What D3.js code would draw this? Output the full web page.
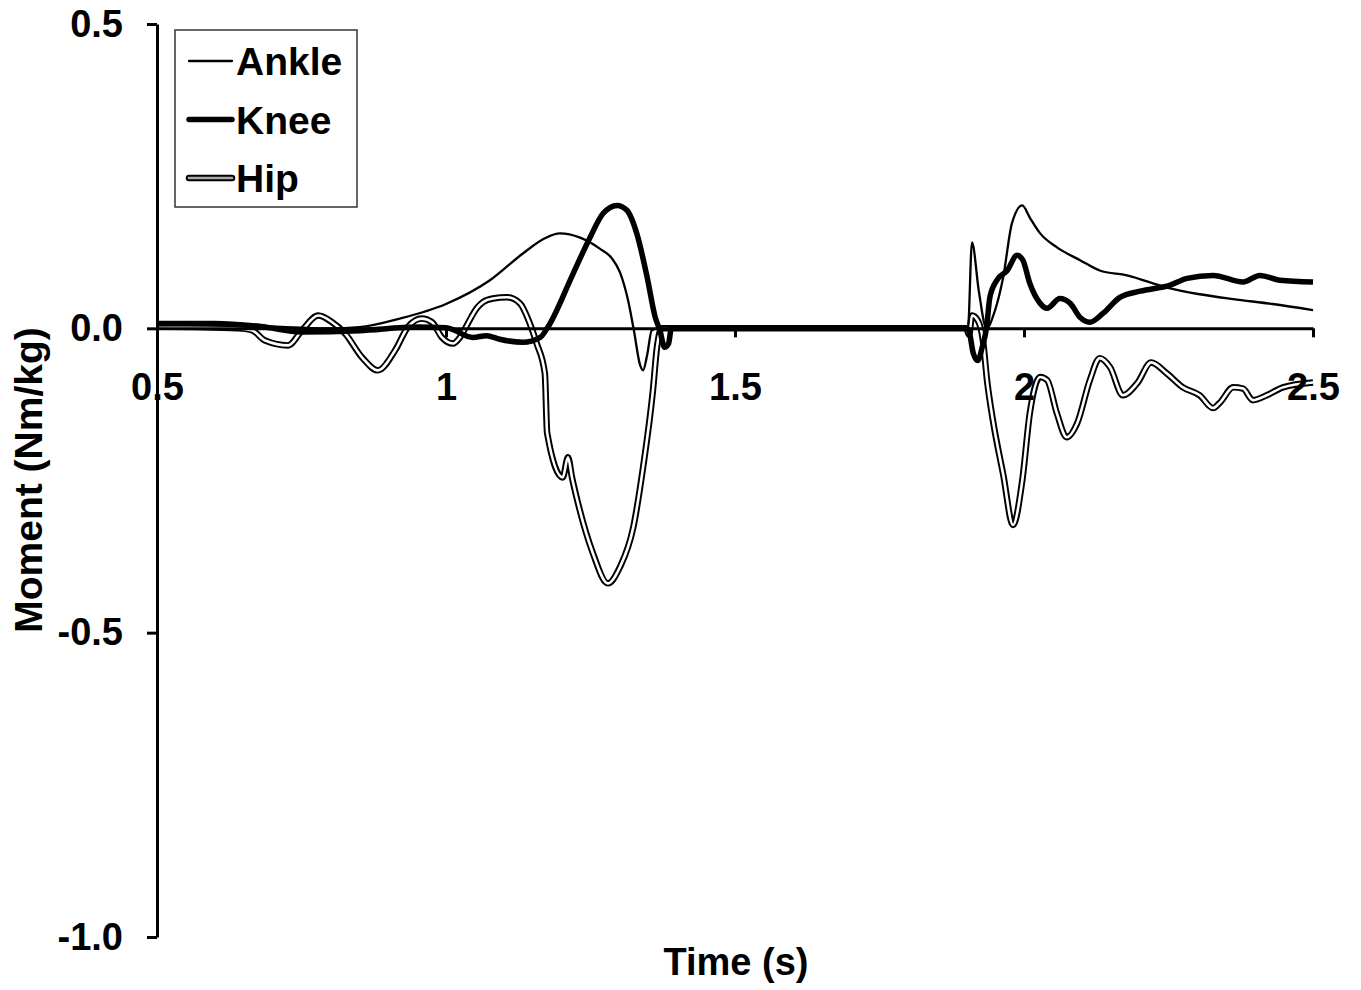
<!DOCTYPE html>
<html>
<head>
<meta charset="utf-8">
<script src="https://cdn.jsdelivr.net/npm/d3@7"></script>
<style>
  body { margin: 0; background: white; }
  text { font-family: "Liberation Sans", Arial, sans-serif; font-weight: bold; fill: black; }
</style>
</head>
<body>
<div id="chart_area"></div>
<script>

// Joint moments: [time (s), moment (Nm/kg)]
var ankle = [[0.5, 0.005], [0.66, 0.004], [0.8, 0.0], [0.85, 0.002], [0.92, 0.016], [1.0, 0.04],
  [1.076, 0.079], [1.133, 0.123], [1.171, 0.148], [1.197, 0.156], [1.232, 0.149], [1.266, 0.131],
  [1.287, 0.115], [1.301, 0.092], [1.315, 0.046], [1.325, -0.003], [1.336, -0.061], [1.341, -0.069],
  [1.348, -0.044], [1.356, -0.003], [1.367, 0.0], [1.6, 0.0], [1.903, 0.0], [1.910, 0.141],
  [1.922, 0.06], [1.935, 0.0], [1.95, 0.03], [1.964, 0.084], [1.979, 0.172], [1.997, 0.202],
  [2.01, 0.182], [2.028, 0.156], [2.057, 0.133], [2.097, 0.112], [2.131, 0.095], [2.178, 0.087],
  [2.247, 0.067], [2.304, 0.056], [2.362, 0.048], [2.43, 0.04], [2.5, 0.03]];

var knee = [[0.5, 0.008], [0.6, 0.008], [0.68, 0.003], [0.75, -0.006], [0.85, -0.004], [0.95, 0.002],
  [1.0, 0.001], [1.047, -0.015], [1.07, -0.012], [1.093, -0.018], [1.133, -0.023], [1.163, -0.015],
  [1.175, 0.0], [1.22, 0.09], [1.249, 0.149], [1.272, 0.189], [1.296, 0.202], [1.313, 0.194],
  [1.33, 0.156], [1.348, 0.084], [1.362, 0.018], [1.37, -0.003], [1.378, -0.031], [1.385, -0.025],
  [1.39, 0.0], [1.6, 0.0], [1.9, 0.0], [1.905, -0.005], [1.912, -0.04], [1.92, -0.053], [1.928, -0.03],
  [1.935, 0.0], [1.941, 0.051], [1.953, 0.079], [1.971, 0.095], [1.988, 0.12], [1.998, 0.112],
  [2.01, 0.074], [2.028, 0.041], [2.04, 0.033], [2.062, 0.049], [2.08, 0.041], [2.097, 0.018],
  [2.114, 0.01], [2.137, 0.025], [2.166, 0.051], [2.201, 0.061], [2.253, 0.071], [2.282, 0.082],
  [2.327, 0.087], [2.379, 0.076], [2.408, 0.087], [2.443, 0.079], [2.5, 0.076]];

var hip = [[0.5, 0.003], [0.64, 0.0], [0.664, -0.003], [0.687, -0.02], [0.727, -0.028], [0.751, -0.003],
  [0.779, 0.021], [0.803, 0.01], [0.825, -0.008], [0.855, -0.048], [0.882, -0.069], [0.912, -0.036],
  [0.934, 0.002], [0.958, 0.016], [0.976, 0.01], [0.993, -0.015], [1.012, -0.025], [1.024, -0.015],
  [1.036, 0.005], [1.054, 0.034], [1.064, 0.043], [1.081, 0.049], [1.106, 0.051], [1.128, 0.041],
  [1.145, 0.008], [1.157, -0.025], [1.171, -0.074], [1.175, -0.172], [1.202, -0.245], [1.211, -0.212],
  [1.218, -0.245], [1.227, -0.282], [1.254, -0.369], [1.28, -0.419], [1.301, -0.392], [1.324, -0.327],
  [1.341, -0.228], [1.358, -0.102], [1.365, -0.031], [1.373, 0.0], [1.6, 0.0], [1.9, 0.0],
  [1.905, -0.011], [1.91, 0.021], [1.92, 0.013], [1.929, -0.02], [1.936, -0.085], [1.946, -0.15],
  [1.964, -0.24], [1.981, -0.323], [1.997, -0.25], [2.01, -0.14], [2.028, -0.08], [2.04, -0.085],
  [2.057, -0.14], [2.074, -0.179], [2.092, -0.156], [2.114, -0.085], [2.131, -0.049], [2.149, -0.064],
  [2.171, -0.11], [2.196, -0.09], [2.22, -0.056], [2.247, -0.074], [2.275, -0.097], [2.304, -0.11],
  [2.327, -0.131], [2.339, -0.122], [2.362, -0.097], [2.379, -0.099], [2.396, -0.118], [2.42, -0.11],
  [2.448, -0.097], [2.5, -0.089]];

// Axis ticks and legend names
var xTicks = [0.5, 1, 1.5, 2, 2.5];
var yTicks = [0.5, 0.0, -0.5, -1.0];
var seriesNames = ["Ankle", "Knee", "Hip"];

window.onload = function() {

  var svgW = 1361
  var svgH = 990
  var margin = {left: 157, right: 48, top: 24, bottom: 53}

  var svg = d3.select("#chart_area")
              .append("svg")
                .attr("width", svgW)
                .attr("height", svgH);

  // Scales
  var xScale = d3.scaleLinear()
                  .domain([0.5, 2.5])
                  .range([margin.left, svgW - margin.right]);

  var yScale = d3.scaleLinear()
                  .domain([-1.0, 0.5])
                  .range([svgH - margin.bottom, margin.top]);

  // monotone curve keeps the flat stretches flat
  var line = d3.line()
                .x(function(d) { return xScale(d[0]); })
                .y(function(d) { return yScale(d[1]); })
                .curve(d3.curveMonotoneX);

  // Hip: black outline with white core
  svg.append("path")
      .attr("d", line(hip))
      .attr("fill", "none")
      .attr("stroke", "black")
      .attr("stroke-width", 6.5)
      .attr("stroke-linejoin", "round");
  svg.append("path")
      .attr("d", line(hip))
      .attr("fill", "none")
      .attr("stroke", "white")
      .attr("stroke-width", 2.6)
      .attr("stroke-linejoin", "round");

  // Ankle: thin line
  svg.append("path")
      .attr("d", line(ankle))
      .attr("fill", "none")
      .attr("stroke", "black")
      .attr("stroke-width", 2.3);

  // Knee: thick line
  svg.append("path")
      .attr("d", line(knee))
      .attr("fill", "none")
      .attr("stroke", "black")
      .attr("stroke-width", 5.5)
      .attr("stroke-linejoin", "round");

  // x axis through zero
  var xAxis = d3.axisBottom(xScale)
                .tickValues(xTicks)
                .tickSize(9)
                .tickSizeOuter(0)
                .tickFormat(function(d) { return String(d); });
  var gx = svg.append("g")
              .attr("transform", "translate(0," + yScale(0) + ")")
              .call(xAxis);
  gx.select(".domain").attr("stroke-width", 3);
  gx.selectAll(".tick line").attr("stroke-width", 3);
  gx.selectAll(".tick text")
      .attr("y", 45)
      .attr("dy", "0.71em")
      .style("font-size", "38px")
      .attr("fill", "black");

  // y axis
  var yAxis = d3.axisLeft(yScale)
                .tickValues(yTicks)
                .tickSize(10)
                .tickSizeOuter(0)
                .tickPadding(24)
                .tickFormat(function(d) { return d.toFixed(1); });
  var gy = svg.append("g")
              .attr("transform", "translate(" + margin.left + ",0)")
              .call(yAxis);
  gy.select(".domain").attr("stroke-width", 3);
  gy.selectAll(".tick line").attr("stroke-width", 3);
  gy.selectAll(".tick text")
      .style("font-size", "38px")
      .attr("fill", "black");

  // Axis titles
  svg.append("text")
      .attr("x", 736)
      .attr("y", 975)
      .style("text-anchor", "middle")
      .style("font-size", "38px")
      .text("Time (s)");

  svg.append("text")
      .attr("transform", "translate(42,480) rotate(-90)")
      .style("text-anchor", "middle")
      .style("font-size", "39px")
      .text("Moment (Nm/kg)");

  // Legend
  var legend = svg.append("g")
                  .attr("class", "legend")
                  .attr("transform", "translate(175,30)");

  legend.append("rect")
        .attr("width", 182)
        .attr("height", 177)
        .attr("fill", "white")
        .attr("stroke", "#333")
        .attr("stroke-width", 1.5);

  var legendRows = [
    {width: 2.3, inner: null},
    {width: 5.5, inner: null},
    {width: 6.5, inner: "#aaa"}
  ];

  seriesNames.forEach(function(name, i) {
    var ly = 31 + i * 58.5;
    legend.append("line")
          .attr("x1", 14).attr("x2", 57)
          .attr("y1", ly).attr("y2", ly)
          .attr("stroke", "black")
          .attr("stroke-width", legendRows[i].width)
          .attr("stroke-linecap", "round");
    if (legendRows[i].inner) {
      legend.append("line")
            .attr("x1", 14).attr("x2", 57)
            .attr("y1", ly).attr("y2", ly)
            .attr("stroke", legendRows[i].inner)
            .attr("stroke-width", 2.6)
            .attr("stroke-linecap", "round");
    }
    legend.append("text")
          .attr("x", 61)
          .attr("y", ly + 14)
          .style("font-size", "39px")
          .text(name);
  });
};
</script>
</body>
</html>
